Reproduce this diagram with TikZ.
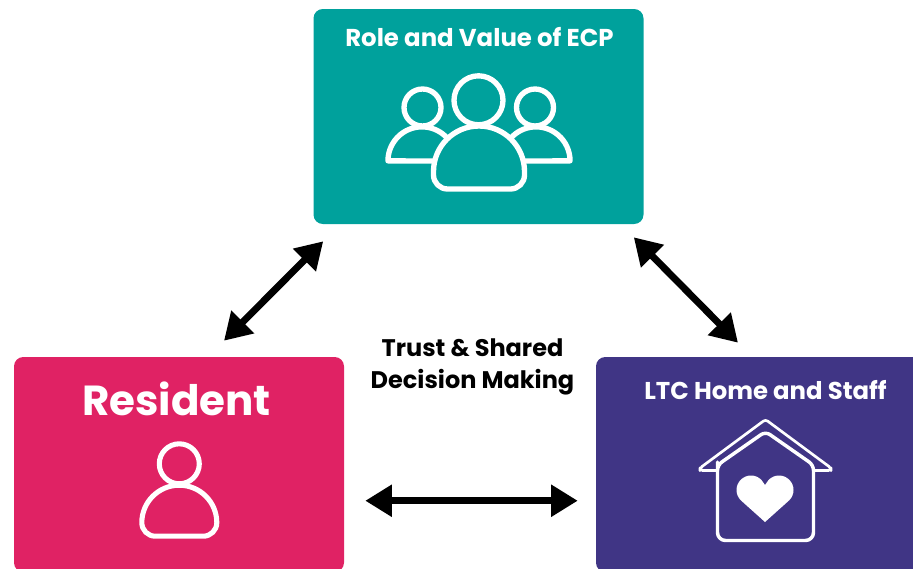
\documentclass[tikz,border=0pt]{standalone}
\usepackage{fontspec}
\setmainfont{Poppins}
\usetikzlibrary{arrows.meta}
\definecolor{ecpteal}{HTML}{00A19C}
\definecolor{residentpink}{HTML}{E02264}
\definecolor{ltcpurple}{HTML}{403585}
\tikzset{
	panel/.style={rectangle,rounded corners=7pt,inner sep=0pt,minimum width=247.5pt,minimum height=161.25pt},
	icon/.style={draw=white,line width=#1,line join=round},
	heading/.style={text=white,font=\bfseries\fontsize{#1}{#1}\selectfont,inner sep=0pt},
	link/.style={line width=5.2pt,{Triangle[length=20pt,width=23pt]}-{Triangle[length=20pt,width=23pt]}}
}
\begin{document}
\begin{tikzpicture}[x=0.75pt,y=0.75pt]
		\useasboundingbox (0,0) rectangle (913,-568);
		\clip (0,0) rectangle (913,-568);
		\node (ecp) [panel,fill=ecpteal] at (478.5,-116.5) {};
		\node (resident) [panel,fill=residentpink] at (179,-464.5) {};
		\node (ltc) [panel,fill=ltcpurple] at (761,-464.5) {};
		\node (ecptitle) [heading=18.3] at (479.5,-37.5) {Role and Value of ECP};
		\node (residenttitle) [heading=31.5] at (176.5,-399) {Resident};
		\node (ltctitle) [heading=18.25] at (765.5,-390.5) {LTC Home and Staff};
		\node (trust) [align=center,inner sep=0pt,font=\bfseries\fontsize{18}{24}\selectfont] at (472.5,-367) {Trust \& Shared\\Decision Making};
		\draw [link] ([shift={(45,16)}]resident.north) -- ([shift={(10,-17)}]ecp.south west);
		\draw [link] ([shift={(-10,-13)}]ecp.south east) -- ([shift={(-23,14)}]ltc.north);
		\draw [link] ([shift={(21,-144)}]resident.north east) -- ([shift={(-18,-144)}]ltc.north west);
		% group icon
		\draw [icon=4pt] (478.5,-100.3) circle (24.5);
		\draw [icon=4pt] (422.5,-107.5) circle (18.5);
		\draw [icon=4pt] (535,-107.5) circle (18.5);
		\draw [icon=4pt] (433.5,-171.5) arc (180:0:45.5) -- (524.5,-175) arc (0:-90:14) -- (447.5,-189) arc (270:180:14) -- cycle;
		\draw [icon=4pt] (448,-139) arc (40:180:34) -- (433.5,-161);
		\draw [icon=4pt] (510,-139) arc (140:0:34) -- (524.5,-161);
		% person icon
		\draw [icon=3.8pt] (179.3,-463.8) circle (20);
		\draw [icon=3.8pt] (141.8,-522.7) arc (180:0:37.5) arc (0:-90:13.5) -- (155.3,-536.2) arc (270:180:13.5) -- cycle;
		% house icon
		\draw [icon=2pt,rounded corners=2pt] (717.5,-470.5) -- (700,-470.5) -- (700,-468) -- (765.5,-419.5) -- (831,-468) -- (831,-470.5) -- (813.5,-470.5);
		\draw [icon=2.6pt,rounded corners=4pt] (717.5,-470) -- (717.5,-465) -- (765.5,-431.5) -- (813.5,-465) [rounded corners=6pt] -- (813.5,-540.5) -- (717.5,-540.5) -- cycle;
		\fill [white] (765,-522) -- (740.75,-500.25) arc (225:45:14.5) -- (765,-485) -- (768.75,-479.75) arc (135:-45:14.5) -- cycle;
\end{tikzpicture}
\end{document}
